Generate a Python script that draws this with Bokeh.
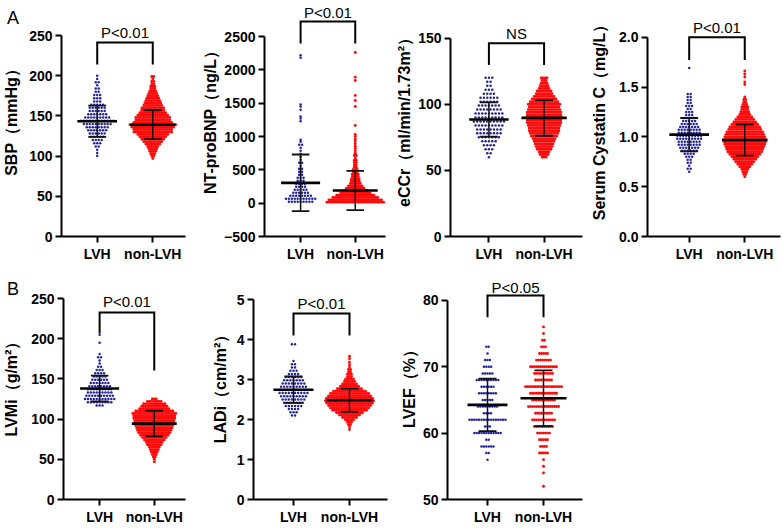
from bokeh.plotting import figure
from bokeh.layouts import row, column
from bokeh.models import Range1d, FixedTicker, Label, NumeralTickFormatter, Div
from bokeh.embed import file_html
from bokeh.resources import INLINE

FONT = "Liberation Sans"
BLUE = "#24249c"
RED = "#ff0a0a"
GROUPS = ["LVH", "non-LVH"]

# ---------------- data (rows of the dot plots: value, number of dots) ----------------
sbp_lvh_vals = [100, 104, 108, 112, 116, 120, 124, 128, 132, 136, 140, 144, 148, 152, 156, 160, 164, 168, 172, 176, 180, 184, 188, 192, 196, 200]
sbp_lvh_counts = [1, 1, 1, 2, 3, 4, 5, 6, 7, 8, 10, 12, 9, 7, 6, 6, 5, 3, 3, 3, 2, 2, 1, 2, 1, 1]
sbp_non_vals = [97, 100, 103, 106, 109, 112, 115, 118, 121, 124, 127, 130, 133, 136, 139, 142, 145, 148, 151, 154, 157, 160, 163, 166, 169, 172, 175, 178, 181, 184, 187, 190, 193, 196, 199]
sbp_non_counts = [1, 2, 3, 4, 5, 6, 8, 10, 12, 14, 16, 20, 20, 22, 24, 20, 18, 18, 16, 14, 12, 12, 10, 9, 8, 7, 6, 5, 4, 3, 3, 2, 2, 1, 2]

bnp_lvh_vals = [20, 65, 110, 155, 200, 245, 290, 335, 380, 425, 470, 515, 560, 605, 650, 695, 740, 785, 830, 875, 920, 950, 1230, 1270, 1300, 1400, 1450, 1480, 2180, 2220]
bnp_lvh_counts = [9, 11, 8, 6, 5, 4, 4, 3, 3, 2, 2, 2, 1, 2, 1, 1, 1, 1, 1, 2, 1, 1, 1, 1, 1, 1, 1, 1, 1, 1]
bnp_non_vals = [15, 50, 85, 120, 155, 190, 225, 260, 295, 330, 365, 400, 435, 470, 505, 540, 575, 610, 645, 680, 715, 750, 785, 820, 855, 890, 925, 960, 1000, 1030, 1165, 1450, 1540, 1615, 1840, 1890, 2260]
bnp_non_counts = [30, 28, 24, 20, 16, 13, 10, 8, 6, 5, 5, 4, 4, 3, 3, 2, 2, 2, 2, 1, 2, 1, 1, 1, 1, 1, 1, 1, 1, 1, 1, 1, 1, 1, 1, 1, 1]

eccr_lvh_vals = [60, 63, 66, 69, 72, 75, 78, 81, 84, 87, 90, 93, 96, 99, 102, 105, 108, 111, 114, 117, 120]
eccr_lvh_counts = [1, 2, 3, 4, 5, 7, 8, 8, 9, 10, 9, 9, 8, 7, 6, 6, 4, 3, 2, 2, 3]
eccr_non_vals = [60, 62, 64, 66, 68, 70, 72, 74, 76, 78, 80, 82, 84, 86, 88, 90, 92, 94, 96, 98, 100, 102, 104, 106, 108, 110, 112, 114, 116, 118, 120]
eccr_non_counts = [3, 5, 6, 8, 9, 10, 11, 12, 14, 15, 16, 16, 17, 18, 18, 19, 18, 18, 17, 16, 17, 15, 13, 11, 9, 8, 6, 5, 4, 3, 4]

cys_lvh_vals = [0.65, 0.68, 0.71, 0.74, 0.77, 0.80, 0.83, 0.86, 0.89, 0.92, 0.95, 0.98, 1.01, 1.04, 1.07, 1.10, 1.13, 1.16, 1.19, 1.22, 1.25, 1.28, 1.31, 1.34, 1.37, 1.40, 1.43, 1.69]
cys_lvh_counts = [1, 2, 1, 2, 2, 3, 4, 6, 7, 8, 8, 9, 9, 8, 8, 7, 6, 5, 4, 3, 3, 2, 3, 2, 2, 2, 2, 1]
cys_non_vals = [0.600, 0.625, 0.650, 0.675, 0.700, 0.725, 0.750, 0.775, 0.800, 0.825, 0.850, 0.875, 0.900, 0.925, 0.950, 0.975, 1.000, 1.025, 1.050, 1.075, 1.100, 1.125, 1.150, 1.175, 1.200, 1.225, 1.250, 1.275, 1.300, 1.325, 1.350, 1.375, 1.400, 1.525, 1.550, 1.600, 1.630, 1.660]
cys_non_counts = [1, 2, 3, 4, 6, 8, 10, 12, 14, 16, 18, 19, 20, 21, 22, 22, 21, 20, 19, 17, 16, 14, 12, 10, 8, 6, 5, 4, 4, 3, 2, 2, 1, 1, 1, 1, 1, 1]

lvmi_lvh_vals = [117, 121, 125, 129, 133, 137, 141, 145, 149, 153, 157, 161, 165, 169, 173, 177, 181, 195, 205]
lvmi_lvh_counts = [3, 9, 11, 10, 9, 9, 8, 7, 6, 5, 4, 3, 2, 1, 1, 2, 1, 1, 1]
lvmi_non_vals = [47, 50, 53, 56, 59, 62, 65, 68, 71, 74, 77, 80, 83, 86, 89, 92, 95, 98, 101, 104, 107, 110, 113, 116, 119, 122, 125]
lvmi_non_counts = [1, 1, 2, 3, 4, 5, 6, 8, 9, 11, 13, 15, 17, 18, 19, 20, 21, 21, 22, 22, 23, 20, 16, 14, 12, 8, 3]

ladi_lvh_vals = [2.10, 2.18, 2.26, 2.34, 2.42, 2.50, 2.58, 2.66, 2.74, 2.82, 2.90, 2.98, 3.06, 3.14, 3.22, 3.30, 3.38, 3.46, 3.88]
ladi_lvh_counts = [2, 3, 4, 6, 7, 8, 9, 10, 10, 9, 8, 7, 6, 4, 3, 2, 2, 1, 2]
ladi_non_vals = [1.75, 1.81, 1.87, 1.93, 1.99, 2.05, 2.11, 2.17, 2.23, 2.29, 2.35, 2.41, 2.47, 2.53, 2.59, 2.65, 2.71, 2.77, 2.83, 2.89, 2.95, 3.01, 3.07, 3.13, 3.19, 3.25, 3.31, 3.37, 3.43, 3.52, 3.58]
ladi_non_counts = [1, 1, 2, 3, 5, 8, 11, 14, 18, 20, 22, 24, 25, 24, 22, 20, 17, 13, 10, 8, 6, 5, 3, 3, 2, 2, 1, 1, 1, 1, 1]

lvef_lvh_vals = [56, 57, 58, 59, 60, 61, 62, 63, 64, 65, 66, 67, 68, 69, 70, 71, 72, 73]
lvef_lvh_counts = [1, 2, 6, 2, 12, 3, 16, 4, 9, 5, 8, 6, 10, 5, 4, 3, 1, 2]
lvef_non_vals = [52, 54, 55, 56, 57, 58, 59, 60, 61, 62, 63, 64, 65, 66, 67, 68, 69, 70, 71, 72, 73, 74, 75, 76]
lvef_non_counts = [1, 1, 1, 1, 5, 4, 5, 7, 10, 12, 9, 16, 12, 14, 19, 9, 10, 14, 8, 5, 3, 2, 1, 1]

# mean and SD of each group, panel order: SBP, NT-proBNP, eCCr, Cystatin C, LVMi, LADi, LVEF
mean_lvh = [143.4, 305, 88.5, 1.022, 138, 2.745, 64.25]
sd_lvh = [19.5, 425, 13.0, 0.167, 16, 0.33, 3.95]
mean_non = [139, 190, 89.7, 0.968, 94.4, 2.48, 65.25]
sd_non = [18, 295, 13.5, 0.156, 16, 0.29, 4.2]

titles = ["SBP（mmHg）", "NT-proBNP（ng/L）", "eCCr（ml/min/1.73m²）", "Serum Cystatin C（mg/L）",
          "LVMi（g/m²）", "LADi（cm/m²）", "LVEF（%）"]
y_ticks = [[0, 50, 100, 150, 200, 250], [-500, 0, 500, 1000, 1500, 2000, 2500], [0, 50, 100, 150],
           [0.0, 0.5, 1.0, 1.5, 2.0], [0, 50, 100, 150, 200, 250], [0, 1, 2, 3, 4, 5], [50, 60, 70, 80]]
p_texts = ["P<0.01", "P<0.01", "NS", "P<0.01", "P<0.01", "P<0.01", "P<0.05"]
panel_letters = ["A", "B"]

dots = [
    ((sbp_lvh_vals, sbp_lvh_counts), (sbp_non_vals, sbp_non_counts)),
    ((bnp_lvh_vals, bnp_lvh_counts), (bnp_non_vals, bnp_non_counts)),
    ((eccr_lvh_vals, eccr_lvh_counts), (eccr_non_vals, eccr_non_counts)),
    ((cys_lvh_vals, cys_lvh_counts), (cys_non_vals, cys_non_counts)),
    ((lvmi_lvh_vals, lvmi_lvh_counts), (lvmi_non_vals, lvmi_non_counts)),
    ((ladi_lvh_vals, ladi_lvh_counts), (ladi_non_vals, ladi_non_counts)),
    ((lvef_lvh_vals, lvef_lvh_counts), (lvef_non_vals, lvef_non_counts)),
]

# ---------------- layout / style (pixels) ----------------
# per panel: canvas width, border-left, frame width, LVH px from axis, row,
#            axis top / axis bottom (px from canvas top), y-title standoff
geom = [
    (198, 60, 125, 36, 0, 35, 236, 6),
    (195, 63, 124, 37, 0, 36, 236, 2),
    (195, 55, 134, 39, 0, 38, 238, 2),
    (194, 58, 134, 42, 0, 37, 238, 8),
    (198, 60, 125, 37, 1, 28, 229, 8),
    (195, 55, 134, 40, 1, 29, 229, 5),
    (195, 54, 135, 40, 1, 30, 230, 2),
]
row_heights = [270, 258]
# bracket top, left leg end, right leg end, text baseline (px below axis top; negative = above)
brackets = [
    (7, 29, 29, -3),
    (-15, 7, 7, -24),
    (5, 27, 27, -5),
    (0, 23, 23, -10),
    (14, 35, 72, 3),
    (14, 36, 36, 4),
    (-5, 17, 17, -13),
]
blue_spacing = [3.0, 3.0, 3.4, 3.0, 3.0, 3.1, 2.4]
red_spacing = [2.0, 2.0, 2.0, 2.0, 2.0, 2.0, 2.0]
PPX = 56.0  # px between the two groups


def swarm(center, vals, counts, spacing_px):
    xs, ys = [], []
    for v, n in zip(vals, counts):
        for i in range(n):
            xs.append(center + (i - (n - 1) / 2.0) * spacing_px / PPX)
            ys.append(v)
    return xs, ys


figs = []
for k in range(7):
    w, bl, fw, lvh_px, r, ax_top, ax_bot, t_standoff = geom[k]
    h = row_heights[r]
    ymin, ymax = y_ticks[k][0], y_ticks[k][-1]
    ppy = (ax_bot - ax_top) / (ymax - ymin)
    ytop = ymax + ax_top / ppy
    x0 = 1 - lvh_px / PPX
    x1 = x0 + fw / PPX
    p = figure(width=w, height=h, x_range=Range1d(x0, x1), y_range=Range1d(ymin, ytop),
               output_backend="svg", toolbar_location=None,
               min_border_left=bl, min_border_right=w - bl - fw,
               min_border_top=0, min_border_bottom=h - ax_bot)
    p.outline_line_color = None
    p.xgrid.visible = False
    p.ygrid.visible = False

    for ax in (p.xaxis[0], p.yaxis[0]):
        ax.axis_line_width = 2
        ax.axis_line_color = "black"
        ax.major_tick_line_width = 2
        ax.major_tick_line_color = "black"
        ax.major_tick_out = 6
        ax.major_tick_in = 0
        ax.minor_tick_line_color = None
        ax.major_label_text_font = FONT
        ax.major_label_text_font_style = "bold"
        ax.major_label_text_font_size = "14px"
        ax.major_label_text_color = "black"
        ax.major_label_standoff = 3
    p.xaxis.ticker = FixedTicker(ticks=[1, 2])
    p.xaxis.major_label_overrides = {1: GROUPS[0], 2: GROUPS[1]}
    p.yaxis.ticker = FixedTicker(ticks=y_ticks[k])
    p.yaxis.bounds = (ymin, ymax)
    if k == 3:
        p.yaxis.formatter = NumeralTickFormatter(format="0.0")
    p.yaxis.axis_label = titles[k]
    p.yaxis.axis_label_text_font = FONT
    p.yaxis.axis_label_text_font_style = "bold"
    p.yaxis.axis_label_text_font_size = "16px"
    p.yaxis.axis_label_text_color = "black"
    p.yaxis.axis_label_standoff = t_standoff

    (lv, lc), (nv, nc) = dots[k]
    bx, by = swarm(1, lv, lc, blue_spacing[k])
    rx, ry = swarm(2, nv, nc, red_spacing[k])
    p.scatter(bx, by, marker="circle", size=2.5, fill_color=BLUE, line_color=None)
    p.scatter(rx, ry, marker="circle", size=2.9, fill_color=RED, line_color=None)

    # mean +- SD
    hw_cap = 9 / PPX
    for c, m, s, hw in ((1, mean_lvh[k], sd_lvh[k], 20 / PPX), (2, mean_non[k], sd_non[k], 23 / PPX)):
        p.segment([c], [m - s], [c], [m + s], line_width=1.5, line_color="#111111")
        p.segment([c - hw_cap, c - hw_cap], [m - s, m + s], [c + hw_cap, c + hw_cap], [m - s, m + s],
                  line_width=1.8, line_color="#111111")
        p.segment([c - hw], [m], [c + hw], [m], line_width=2.6, line_color="black")

    # significance bracket
    b_top, b_l, b_r, b_tx = brackets[k]
    yt = ymax - b_top / ppy
    yl = ymax - b_l / ppy
    yr = ymax - b_r / ppy
    p.line([1, 1, 2, 2], [yl, yt, yt, yr], line_width=2, line_color="black", line_join="miter")
    p.add_layout(Label(x=1.5, y=ymax - b_tx / ppy, text=p_texts[k], text_align="center",
                       text_baseline="alphabetic", text_font=FONT, text_font_size="15px",
                       text_color="black"))
    figs.append(p)

letter_style = {"position": "absolute", "left": "2px", "font-family": FONT,
                "font-size": "18px", "color": "black", "line-height": "18px"}
letter_divs = [
    Div(text=panel_letters[0], width=16, height=18, styles=dict(letter_style, top="4px")),
    Div(text=panel_letters[1], width=16, height=18, styles=dict(letter_style, top="275px")),
]

layout = column(row(figs[0], figs[1], figs[2], figs[3], spacing=0),
                row(figs[4], figs[5], figs[6], spacing=0),
                letter_divs[0], letter_divs[1], spacing=0)

open("out.html", "w").write(file_html(layout, INLINE))
